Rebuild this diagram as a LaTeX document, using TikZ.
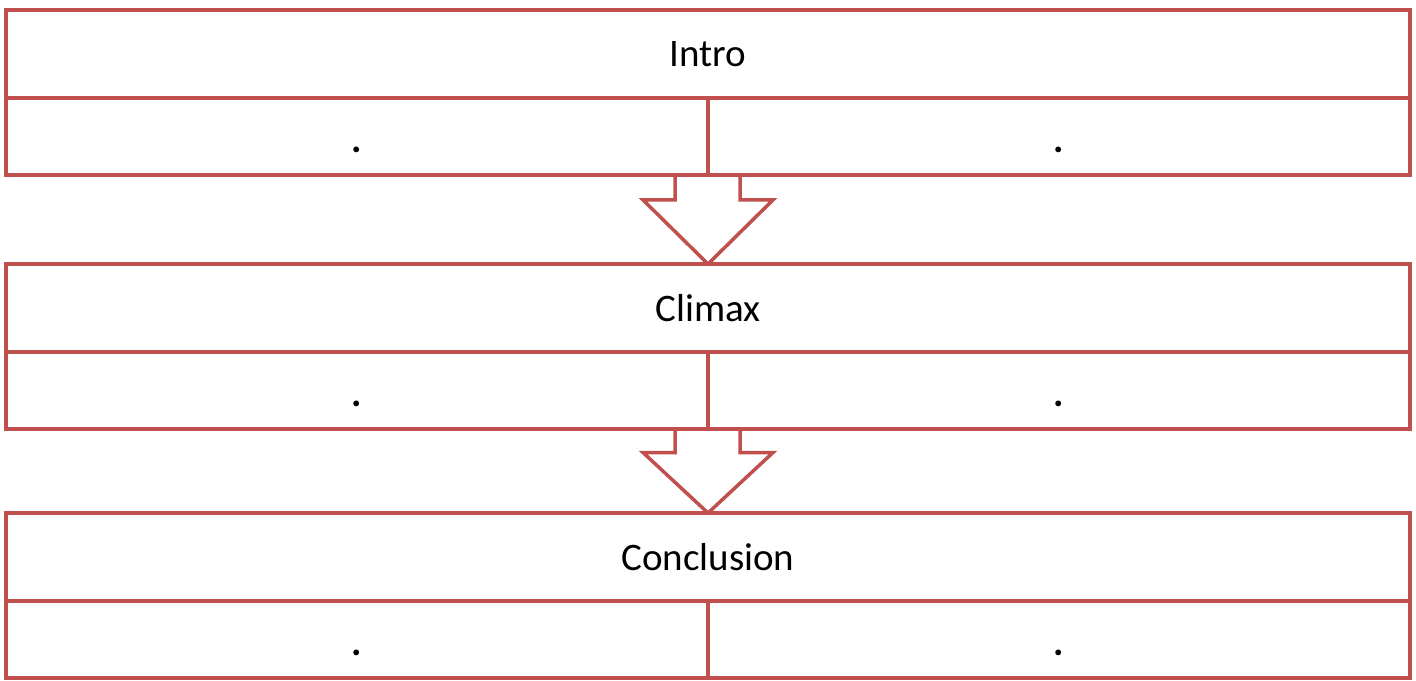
\documentclass[tikz,border=0pt]{standalone}
\usepackage{fontspec}
\setmainfont{Carlito}
\usetikzlibrary{calc}

\begin{document}
\begin{tikzpicture}[x=1pt,y=-1pt,
    titlebox/.style={draw=boxred, line width=3.5pt, outer sep=0pt, minimum width=1404pt, minimum height=88pt, inner sep=0pt},
    cellbox/.style={draw=boxred, line width=3.5pt, outer sep=0pt, minimum width=702pt, minimum height=77pt, inner sep=0pt, text height=31pt, text depth=0pt},
    blockarrow/.style={draw=boxred, line width=3.5pt}]
	% Define colours
	\definecolor{boxred}{RGB}{192,80,77}
	\fontsize{39}{45}\selectfont

	\useasboundingbox (0,0) rectangle (1416,680);

	% Stages
	\foreach \n/\y/\label in {intro/10/Intro, climax/264/Climax, concl/513/Conclusion} {
		\node[titlebox] (\n) at (708,\y+44) {\label};
		\node[cellbox, anchor=north east] (\n-l) at (\n.south) {\textbf{.}};
		\node[cellbox, anchor=north west] (\n-r) at (\n.south) {\textbf{.}};
	}

	% Block arrows between stages
	\foreach \a/\b in {intro/climax, climax/concl}
		\draw[blockarrow] ($(\a-l.south east)+(-33,0)$) -- ($(\a-l.south east)!0.28!(\b.north)+(-33,0)$)
			-- ($(\a-l.south east)!0.28!(\b.north)+(-65,0)$) -- (\b.north)
			-- ($(\a-l.south east)!0.28!(\b.north)+(65,0)$) -- ($(\a-l.south east)!0.28!(\b.north)+(32,0)$)
			-- ($(\a-l.south east)+(32,0)$);

\end{tikzpicture}
\end{document}
